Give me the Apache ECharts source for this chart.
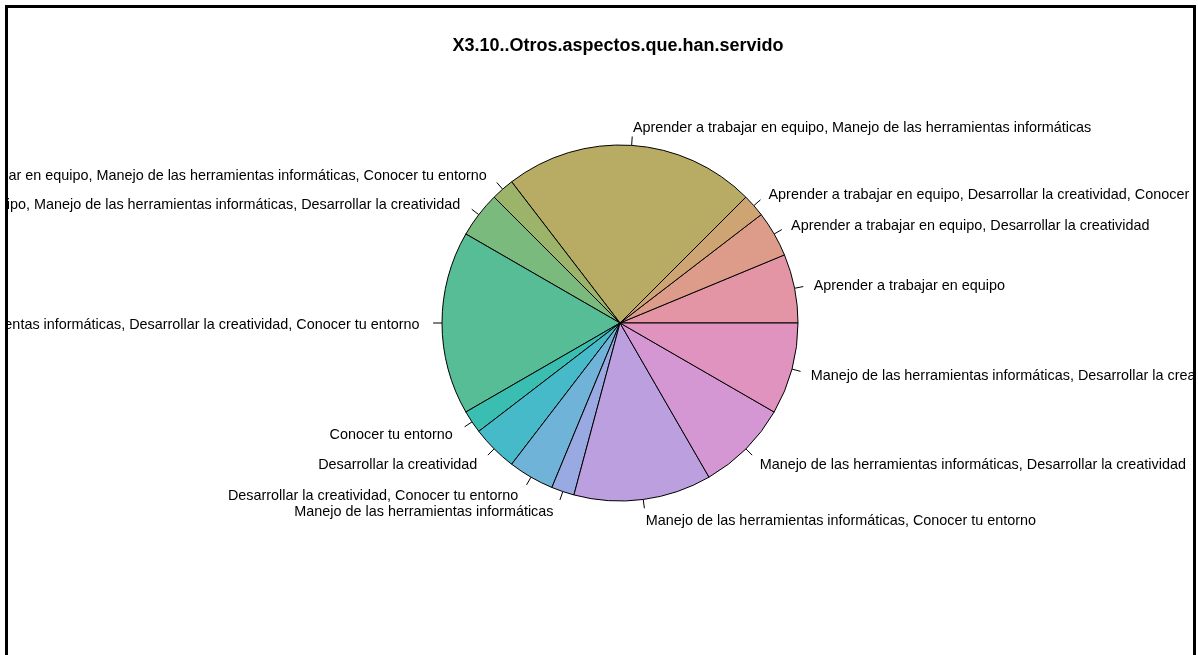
<!DOCTYPE html>
<html>
<head>
<meta charset="utf-8">
<script src="https://cdn.jsdelivr.net/npm/echarts@6/dist/echarts.min.js"></script>
<style>
  html, body { margin: 0; padding: 0; background: #fff; overflow: hidden; width: 1198px; height: 655px; }
  #frame { position: absolute; left: 5px; top: 5px; width: 1185px; height: 700px; border: 3px solid #000; overflow: hidden; }
  #chart { width: 1185px; height: 700px; }
</style>
</head>
<body>
<div id="frame"><div id="chart"></div></div>
<script>
// ---- data ----
const chartTitle = 'X3.10..Otros.aspectos.que.han.servido';
const categories = [
  'Aprender a trabajar en equipo',
  'Aprender a trabajar en equipo, Desarrollar la creatividad',
  'Aprender a trabajar en equipo, Desarrollar la creatividad, Conocer tu entorno',
  'Aprender a trabajar en equipo, Manejo de las herramientas informáticas',
  'Aprender a trabajar en equipo, Manejo de las herramientas informáticas, Conocer tu entorno',
  'Aprender a trabajar en equipo, Manejo de las herramientas informáticas, Desarrollar la creatividad',
  'Aprender a trabajar en equipo, Manejo de las herramientas informáticas, Desarrollar la creatividad, Conocer tu entorno',
  'Conocer tu entorno',
  'Desarrollar la creatividad',
  'Desarrollar la creatividad, Conocer tu entorno',
  'Manejo de las herramientas informáticas',
  'Manejo de las herramientas informáticas, Conocer tu entorno',
  'Manejo de las herramientas informáticas, Desarrollar la creatividad',
  'Manejo de las herramientas informáticas, Desarrollar la creatividad, Conocer tu entorno'
];
const counts = [3, 2, 1, 11, 1, 2, 8, 1, 2, 2, 1, 6, 4, 4];

// ---- colours: HCL rainbow (c=50, l=70) like R colorspace::rainbow_hcl ----
function hcl(h, c, l) {
  const Xn = 95.047, Yn = 100, Zn = 108.883;
  const den = Xn + 15 * Yn + 3 * Zn;
  const un = 4 * Xn / den, vn = 9 * Yn / den;
  const hr = h * Math.PI / 180;
  const u = c * Math.cos(hr), v = c * Math.sin(hr);
  const Y = Yn * Math.pow((l + 16) / 116, 3);
  const up = u / (13 * l) + un, vp = v / (13 * l) + vn;
  const X = Y * 9 * up / (4 * vp);
  const Z = Y * (12 - 3 * up - 20 * vp) / (4 * vp);
  const x = X / 100, y = Y / 100, z = Z / 100;
  const lin = [
    3.240479 * x - 1.537150 * y - 0.498535 * z,
    -0.969256 * x + 1.875992 * y + 0.041556 * z,
    0.055648 * x - 0.204043 * y + 1.057311 * z
  ];
  return '#' + lin.map(cc => {
    let g = cc <= 0.0031308 ? 12.92 * cc : 1.055 * Math.pow(cc, 1 / 2.4) - 0.055;
    g = Math.min(1, Math.max(0, g));
    return Math.round(g * 255).toString(16).padStart(2, '0');
  }).join('');
}
const n = categories.length;
const palette = categories.map((_, i) => hcl(360 * i / n, 50, 70));

const pieData = categories.map((c, i) => ({ name: c, value: counts[i], itemStyle: { color: palette[i] } }));
const labelData = categories.map((c, i) => ({ name: c, value: counts[i] }));

const font = 'Liberation Sans';
const chart = echarts.init(document.getElementById('chart'), null, { renderer: 'canvas' });
chart.setOption({
  backgroundColor: '#fff',
  animation: false,
  graphic: [{
    type: 'text', x: 610, y: 38, silent: true,
    style: { text: chartTitle, fill: '#000', font: 'bold 18px "Liberation Sans"', align: 'center', verticalAlign: 'middle' }
  }],
  series: [
    {
      // slices with black borders and short radial tick marks
      type: 'pie', center: [612, 315], radius: 178,
      startAngle: 0, clockwise: false, avoidLabelOverlap: false, minShowLabelAngle: 0,
      silent: true, emphasis: { disabled: true },
      itemStyle: { borderColor: '#000', borderWidth: 1 },
      label: { show: true, position: 'outside', formatter: ' ', fontSize: 1 },
      labelLine: { show: true, length: 8.9, length2: 0, lineStyle: { color: '#000', width: 1 } },
      data: pieData
    },
    {
      // category labels placed beyond the ticks
      type: 'pie', center: [612, 317], radius: 178,
      startAngle: 0, clockwise: false, avoidLabelOverlap: false, minShowLabelAngle: 0,
      silent: true, emphasis: { disabled: true },
      itemStyle: { color: 'rgba(0,0,0,0)', borderWidth: 0 },
      label: { show: true, position: 'outside', color: '#000', fontFamily: font, fontSize: 14.4,
               distanceToLabelLine: 0, padding: [0, 3, 0, 0], formatter: '{b}' },
      labelLine: { show: false, length: 19.5, length2: 0 },
      data: labelData
    }
  ]
});
</script>
</body>
</html>
